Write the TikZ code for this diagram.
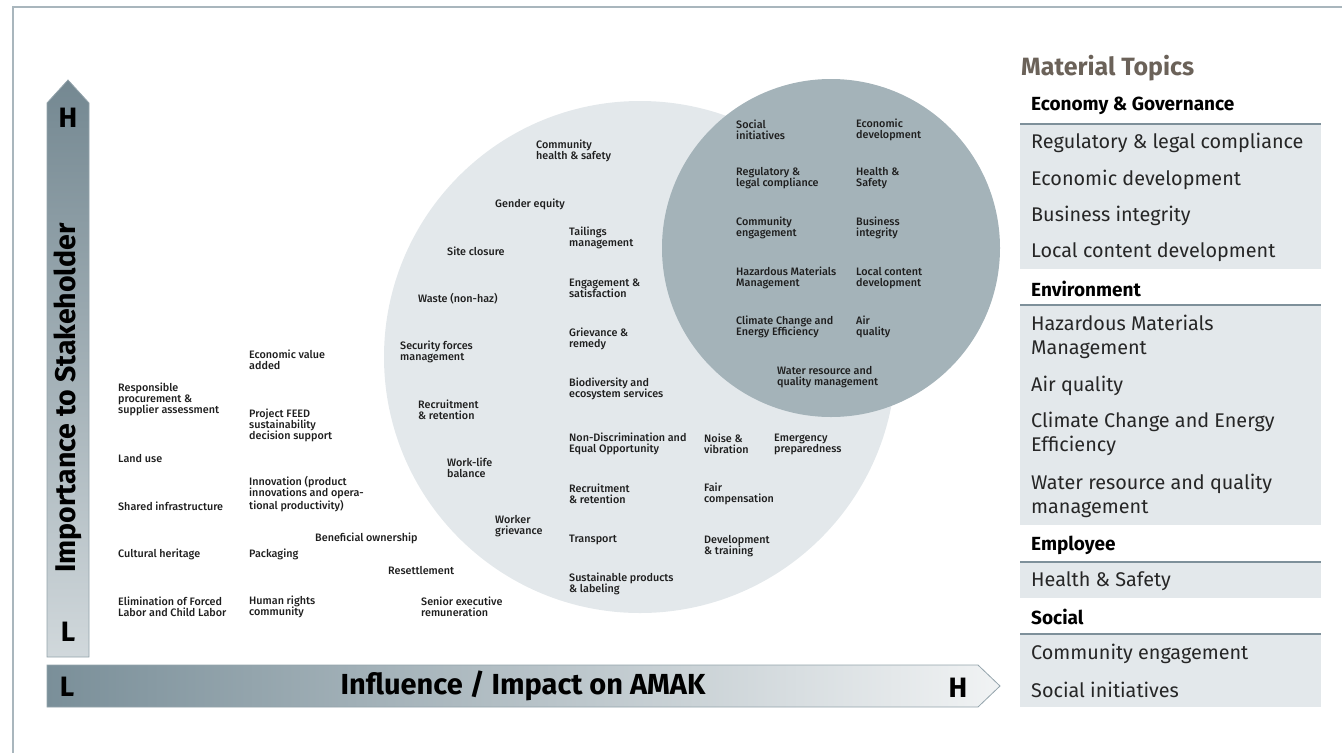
\documentclass[tikz,border=0pt]{standalone}
\usepackage{fontspec}
\setmainfont{Fira Sans}
\newfontfamily\labelfont{Fira Sans Medium}
\usepackage{xcolor}
\usepackage{tikz}

\definecolor{framegray}{HTML}{A9B6BD}
\definecolor{lightdisc}{HTML}{E3E8EB}
\definecolor{darkdisc}{HTML}{A4B3B9}
\definecolor{axisdark}{HTML}{7A8F99}
\definecolor{axislight}{HTML}{F1F3F4}
\definecolor{axisborder}{HTML}{93A3AB}
\definecolor{rulegray}{HTML}{7E909A}
\definecolor{cellgray}{HTML}{E3E8EB}
\definecolor{titlebrown}{HTML}{6B6259}
\definecolor{labeltext}{HTML}{1E1E1E}

\tikzset{
  topic/.style={anchor=west, align=left, inner sep=0pt, text=labeltext,
    font=\labelfont\fontsize{10.8}{11}\selectfont},
  axisletter/.style={inner sep=0pt, font=\bfseries\fontsize{28}{28}\selectfont},
  listhead/.style={anchor=west, inner sep=0pt, font=\bfseries\fontsize{19}{20}\selectfont},
  listitem/.style={anchor=west, align=left, inner sep=0pt, text=black!85,
    font=\fontsize{19.8}{24}\selectfont},
}

\begin{document}
\begin{tikzpicture}[x=1pt, y=-1pt]

    \useasboundingbox (0,0) rectangle (1342,753);

    % Frame along the top and the left side
    \draw[framegray, line width=2pt] (13,753) -- (13,7) -- (1342,7);

    % The two discs
    \fill[lightdisc] (640,357) circle[radius=256];
    \fill[darkdisc] (831,248) circle[radius=169];

    % Vertical axis arrow
    \draw[axisborder, line width=0.8pt, top color=axisdark!95!black, bottom color=axisdark!35!white]
        (47,657) -- (47,103) -- (68,80) -- (89,103) -- (89,657) -- cycle;
    \node[axisletter] (vH) at (68,118) {H};
    \node[axisletter] (vL) at (68,632) {L};
    \node[axisletter, rotate=90, font=\bfseries\fontsize{28.5}{28}\selectfont] (vtitle) at (68,398) {Importance to Stakeholder};

    % Horizontal axis arrow
    \draw[axisborder, line width=0.8pt, left color=axisdark, right color=axislight]
        (47,665) -- (978,665) -- (1000,686) -- (978,707) -- (47,707) -- cycle;
    \node[axisletter] (hL) at (67,687) {L};
    \node[axisletter] (hH) at (958,688) {H};
    \node[axisletter, font=\bfseries\fontsize{29}{29}\selectfont] (htitle) at (523,686) {Influence / Impact on AMAK};

    % Topics outside the discs
    \node[topic] (econvalue) at (249,360) {Economic value\\added};
    \node[topic] (procurement) at (118,399) {Responsible\\procurement \&\\supplier assessment};
    \node[topic] (feed) at (249,425) {Project FEED\\sustainability\\decision support};
    \node[topic] (landuse) at (118,458) {Land use};
    \node[topic] (innovation) at (249,494) {Innovation (product\\innovations and opera-\\tional productivity)};
    \node[topic] (infra) at (118,506) {Shared infrastructure};
    \node[topic] (ownership) at (315,538) {Beneficial ownership};
    \node[topic] (heritage) at (118,554) {Cultural heritage};
    \node[topic] (packaging) at (249,554) {Packaging};
    \node[topic] (resettle) at (388,570) {Resettlement};
    \node[topic] (forcedlabor) at (118,607) {Elimination of Forced\\Labor and Child Labor};
    \node[topic] (humanrights) at (249,607) {Human rights\\community};
    \node[topic] (seniorexec) at (421,607) {Senior executive\\remuneration};

    % Topics in the light disc
    \node[topic] (commhealth) at (536,151) {Community\\health \& safety};
    \node[topic] (gender) at (495,204) {Gender equity};
    \node[topic] (tailings) at (569,238) {Tailings\\management};
    \node[topic] (siteclosure) at (447,251) {Site closure};
    \node[topic] (engagement) at (569,288) {Engagement \&\\satisfaction};
    \node[topic] (waste) at (418,299) {Waste (non-haz)};
    \node[topic] (grievance) at (569,339) {Grievance \&\\remedy};
    \node[topic] (security) at (400,352) {Security forces\\management};
    \node[topic] (biodiversity) at (569,389) {Biodiversity and\\ecosystem services};
    \node[topic] (recruitA) at (418,410) {Recruitment\\\& retention};
    \node[topic] (nondiscrim) at (569,444) {Non-Discrimination and\\Equal Opportunity};
    \node[topic] (noise) at (704,444) {Noise \&\\vibration};
    \node[topic] (emergency) at (774,444) {Emergency\\preparedness};
    \node[topic] (worklife) at (447,468) {Work-life\\balance};
    \node[topic] (recruitB) at (569,494) {Recruitment\\\& retention};
    \node[topic] (faircomp) at (704,494) {Fair\\compensation};
    \node[topic] (workergriev) at (495,526) {Worker\\grievance};
    \node[topic] (transport) at (569,540) {Transport};
    \node[topic] (devtraining) at (704,546) {Development\\\& training};
    \node[topic] (sustprod) at (569,584) {Sustainable products\\\& labeling};

    % Topics in the dark disc
    \node[topic] (socialinit) at (736,130) {Social\\initiatives};
    \node[topic] (econdev) at (856,130) {Economic\\development};
    \node[topic] (regulatory) at (736,178) {Regulatory \&\\legal compliance};
    \node[topic] (healthsafety) at (856,178) {Health \&\\Safety};
    \node[topic] (commengage) at (736,228) {Community\\engagement};
    \node[topic] (business) at (856,228) {Business\\integrity};
    \node[topic] (hazmat) at (736,278) {Hazardous Materials\\Management};
    \node[topic] (localcontent) at (856,278) {Local content\\development};
    \node[topic] (climate) at (736,327) {Climate Change and\\Energy Efficiency};
    \node[topic] (airquality) at (856,327) {Air\\quality};
    \node[topic] (water) at (777,377) {Water resource and\\quality management};

    % Material topics list
    \node[anchor=west, inner sep=0pt, text=titlebrown, font=\bfseries\fontsize{25}{25}\selectfont] (title) at (1021,68) {Material Topics};

    \fill[cellgray] (1020,124) rectangle (1321,269);
    \fill[cellgray] (1020,305) rectangle (1321,525);
    \fill[cellgray] (1020,562) rectangle (1321,598);
    \fill[cellgray] (1020,634) rectangle (1321,707);
    \foreach \y in {124,305,562,634}
        \draw[rulegray, line width=1.6pt] (1020,\y) -- (1321,\y);

    \node[listhead] (economy) at (1031,106) {Economy \& Governance};
    \node[listitem] (ecoA) at (1031,143) {Regulatory \& legal compliance};
    \node[listitem] (ecoB) at (1031,180) {Economic development};
    \node[listitem] (ecoC) at (1031,216) {Business integrity};
    \node[listitem] (ecoD) at (1031,252) {Local content development};

    \node[listhead] (environment) at (1031,289) {Environment};
    \node[listitem] (envA) at (1031,337) {Hazardous Materials\\Management};
    \node[listitem] (envB) at (1031,386) {Air quality};
    \node[listitem] (envC) at (1031,434) {Climate Change and Energy\\Efficiency};
    \node[listitem] (envD) at (1031,496) {Water resource and quality\\management};

    \node[listhead] (employee) at (1031,545) {Employee};
    \node[listitem] (empA) at (1031,581) {Health \& Safety};

    \node[listhead] (social) at (1031,617) {Social};
    \node[listitem] (socA) at (1031,654) {Community engagement};
    \node[listitem] (socB) at (1031,690) {Social initiatives};

\end{tikzpicture}
\end{document}
